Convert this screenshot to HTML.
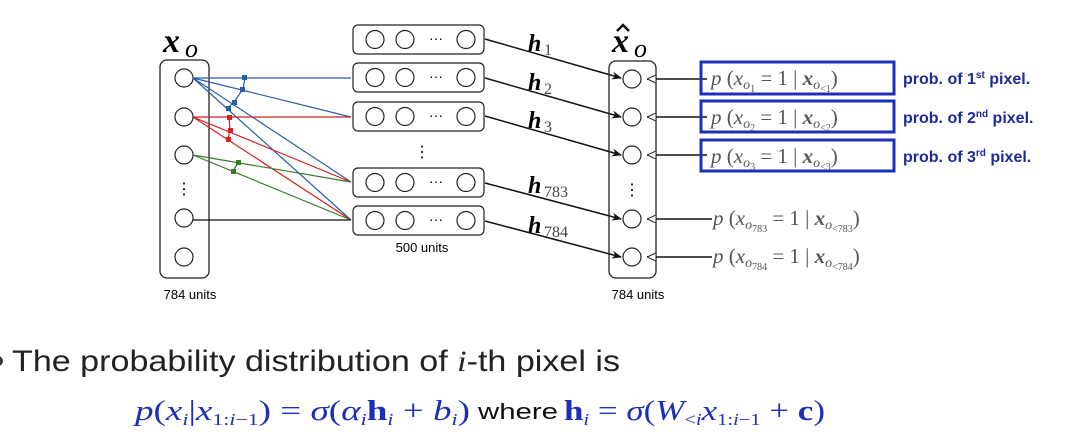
<!DOCTYPE html>
<html><head><meta charset="utf-8"><style>
html,body{margin:0;padding:0;background:#fff;}
svg{display:block}
.s{font-family:"Liberation Serif",serif}
.a{font-family:"Liberation Sans",sans-serif}
</style></head><body>
<svg width="1082" height="444" viewBox="0 0 1082 444" xmlns="http://www.w3.org/2000/svg">
<defs>
<marker id="ak" markerWidth="10" markerHeight="8" refX="9" refY="4" orient="auto" markerUnits="userSpaceOnUse"><path d="M0,0 L10,4 L0,8 L3,4z" fill="#111"/></marker>
<marker id="ao" markerWidth="9" markerHeight="8" refX="0" refY="4" orient="auto" markerUnits="userSpaceOnUse"><path d="M9,0 L0,4 L9,8z" fill="#fff" stroke="#222" stroke-width="1"/></marker>
</defs>
<!-- input column -->
<text x="163" y="52" class="s" font-size="34" font-weight="bold" font-style="italic">x</text>
<text x="185" y="57" class="s" font-size="26" font-style="italic">o</text>
<rect x="160" y="60" width="49" height="218" rx="7" fill="none" stroke="#222" stroke-width="1.3"/>
<g fill="#fff" stroke="#222" stroke-width="1.2">
<circle cx="184" cy="78" r="9"/><circle cx="184" cy="117" r="9"/><circle cx="184" cy="155" r="9"/>
<circle cx="184" cy="218" r="9"/><circle cx="184" cy="257" r="9"/></g>
<text x="184" y="194" class="a" font-size="16" text-anchor="middle">⋮</text>
<text x="190" y="299" class="a" font-size="13" text-anchor="middle">784 units</text>
<!-- colored connections -->
<g stroke-width="1.2" fill="none">
<g stroke="#2a5caa"><line x1="193" y1="78" x2="351" y2="78"/><line x1="193" y1="78" x2="351" y2="117"/><line x1="193" y1="78" x2="351" y2="182"/><line x1="193" y1="78" x2="351" y2="220"/></g>
<g stroke="#d42020"><line x1="193" y1="117" x2="351" y2="117"/><line x1="193" y1="117" x2="351" y2="182"/><line x1="193" y1="117" x2="351" y2="220"/></g>
<g stroke="#3a7a2a"><line x1="193" y1="155" x2="351" y2="182"/><line x1="193" y1="155" x2="351" y2="220"/></g>
<line x1="193" y1="220" x2="351" y2="220" stroke="#111"/>
<path d="M245,78 L243,89 L234,102 L228,108" stroke="#2a5caa"/>
<path d="M229,117 L230,130 L228,139" stroke="#d42020"/>
<path d="M238,163 L233,171" stroke="#3a7a2a"/>
</g>
<g fill="#2a5caa"><rect x="242" y="75" width="5" height="5"/><rect x="240" y="87" width="5" height="5"/><rect x="232" y="100" width="5" height="5"/><rect x="226" y="106" width="5" height="5"/></g>
<g fill="#d42020"><rect x="227" y="115" width="5" height="5"/><rect x="228" y="128" width="5" height="5"/><rect x="226" y="137" width="5" height="5"/></g>
<g fill="#3a7a2a"><rect x="236" y="160" width="5" height="5"/><rect x="231" y="169" width="5" height="5"/></g>
<!-- hidden boxes -->
<g fill="#fff" stroke="#222" stroke-width="1.2">
<rect x="353" y="25" width="131" height="29" rx="5"/><rect x="353" y="63" width="131" height="29" rx="5"/><rect x="353" y="102" width="131" height="29" rx="5"/><rect x="353" y="168" width="131" height="29" rx="5"/><rect x="353" y="206" width="131" height="29" rx="5"/>
</g>
<g fill="none" stroke="#222" stroke-width="1.2">
<circle cx="375" cy="39.5" r="9"/><circle cx="405" cy="39.5" r="9"/><circle cx="466" cy="39.5" r="9"/>
<circle cx="375" cy="77.5" r="9"/><circle cx="405" cy="77.5" r="9"/><circle cx="466" cy="77.5" r="9"/>
<circle cx="375" cy="116.5" r="9"/><circle cx="405" cy="116.5" r="9"/><circle cx="466" cy="116.5" r="9"/>
<circle cx="375" cy="182.5" r="9"/><circle cx="405" cy="182.5" r="9"/><circle cx="466" cy="182.5" r="9"/>
<circle cx="375" cy="220.5" r="9"/><circle cx="405" cy="220.5" r="9"/><circle cx="466" cy="220.5" r="9"/>
</g>
<g class="a" font-size="14" text-anchor="middle"><text x="436" y="43">···</text><text x="436" y="81">···</text><text x="436" y="120">···</text><text x="436" y="186">···</text><text x="436" y="224">···</text></g>
<text x="422" y="157" class="a" font-size="16" text-anchor="middle">⋮</text>
<text x="422" y="252" class="a" font-size="13" text-anchor="middle">500 units</text>
<!-- h arrows -->
<g stroke="#111" stroke-width="1.5" marker-end="url(#ak)">
<line x1="485" y1="39" x2="621" y2="78"/><line x1="485" y1="78" x2="621" y2="117"/><line x1="485" y1="116" x2="621" y2="155"/><line x1="485" y1="183" x2="621" y2="219"/><line x1="485" y1="221" x2="621" y2="257"/>
</g>
<g class="s" font-style="italic" font-weight="bold" font-size="24">
<text x="528" y="51">h</text><text x="528" y="90">h</text><text x="528" y="128">h</text><text x="528" y="193">h</text><text x="528" y="233">h</text></g>
<g class="s" font-size="16" fill="#444">
<text x="544" y="55">1</text><text x="544" y="94">2</text><text x="544" y="132">3</text><text x="544" y="197">783</text><text x="544" y="237">784</text></g>
<!-- output column -->
<text x="612" y="52" class="s" font-size="34" font-weight="bold" font-style="italic">x</text>
<path d="M617,31 L623,25 L629,31" fill="none" stroke="#111" stroke-width="2.5"/>
<text x="634" y="57" class="s" font-size="26" font-style="italic">o</text>
<rect x="609" y="61" width="47" height="217" rx="7" fill="none" stroke="#222" stroke-width="1.3"/>
<g fill="#fff" stroke="#222" stroke-width="1.2">
<circle cx="632" cy="79" r="9"/><circle cx="632" cy="117" r="9"/><circle cx="632" cy="155" r="9"/><circle cx="632" cy="219" r="9"/><circle cx="632" cy="257" r="9"/></g>
<text x="632" y="195" class="a" font-size="16" text-anchor="middle">⋮</text>
<text x="638" y="299" class="a" font-size="13" text-anchor="middle">784 units</text>
<g stroke="#111" stroke-width="1.5" marker-start="url(#ao)">
<line x1="647" y1="79" x2="707" y2="79"/><line x1="647" y1="117" x2="707" y2="117"/><line x1="647" y1="155" x2="707" y2="155"/><line x1="647" y1="219" x2="712" y2="219"/><line x1="647" y1="257" x2="712" y2="257"/></g>
<g fill="none" stroke="#1c2fb8" stroke-width="3">
<rect x="701" y="62" width="193" height="32"/><rect x="701" y="101" width="193" height="31"/><rect x="701" y="140" width="193" height="31"/></g>
<g class="s" font-size="21" fill="#555">
<text x="711" y="85"><tspan font-style="italic">p</tspan> (<tspan font-style="italic">x</tspan><tspan font-style="italic" font-size="14" dy="4">o</tspan><tspan font-size="10" dy="3">1</tspan><tspan dy="-7"> = 1 | </tspan><tspan font-style="italic" font-weight="bold">x</tspan><tspan font-style="italic" font-size="14" dy="4">o</tspan><tspan font-size="10" dy="3">&lt;1</tspan><tspan dy="-7">)</tspan></text>
<text x="711" y="124"><tspan font-style="italic">p</tspan> (<tspan font-style="italic">x</tspan><tspan font-style="italic" font-size="14" dy="4">o</tspan><tspan font-size="10" dy="3">2</tspan><tspan dy="-7"> = 1 | </tspan><tspan font-style="italic" font-weight="bold">x</tspan><tspan font-style="italic" font-size="14" dy="4">o</tspan><tspan font-size="10" dy="3">&lt;2</tspan><tspan dy="-7">)</tspan></text>
<text x="711" y="163"><tspan font-style="italic">p</tspan> (<tspan font-style="italic">x</tspan><tspan font-style="italic" font-size="14" dy="4">o</tspan><tspan font-size="10" dy="3">3</tspan><tspan dy="-7"> = 1 | </tspan><tspan font-style="italic" font-weight="bold">x</tspan><tspan font-style="italic" font-size="14" dy="4">o</tspan><tspan font-size="10" dy="3">&lt;3</tspan><tspan dy="-7">)</tspan></text>
<text x="713" y="225"><tspan font-style="italic">p</tspan> (<tspan font-style="italic">x</tspan><tspan font-style="italic" font-size="14" dy="4">o</tspan><tspan font-size="10" dy="3">783</tspan><tspan dy="-7"> = 1 | </tspan><tspan font-style="italic" font-weight="bold">x</tspan><tspan font-style="italic" font-size="14" dy="4">o</tspan><tspan font-size="10" dy="3">&lt;783</tspan><tspan dy="-7">)</tspan></text>
<text x="713" y="263"><tspan font-style="italic">p</tspan> (<tspan font-style="italic">x</tspan><tspan font-style="italic" font-size="14" dy="4">o</tspan><tspan font-size="10" dy="3">784</tspan><tspan dy="-7"> = 1 | </tspan><tspan font-style="italic" font-weight="bold">x</tspan><tspan font-style="italic" font-size="14" dy="4">o</tspan><tspan font-size="10" dy="3">&lt;784</tspan><tspan dy="-7">)</tspan></text>
</g>
<g class="a" font-size="16" font-weight="bold" fill="#1c2a9a">
<text x="903" y="84">prob. of 1<tspan font-size="10" dy="-6">st</tspan><tspan dy="6"> pixel.</tspan></text>
<text x="903" y="123">prob. of 2<tspan font-size="10" dy="-6">nd</tspan><tspan dy="6"> pixel.</tspan></text>
<text x="903" y="162">prob. of 3<tspan font-size="10" dy="-6">rd</tspan><tspan dy="6"> pixel.</tspan></text>
</g>
<!-- bottom text -->
<circle cx="-2" cy="361" r="5" fill="#333"/>
<text x="12" y="371" class="a" font-size="30" fill="#222" textLength="608" lengthAdjust="spacingAndGlyphs">The probability distribution of <tspan class="s" font-style="italic">i</tspan>-th pixel is</text>
<text x="135" y="420" class="s" font-size="29" fill="#1c2fb8" textLength="335" lengthAdjust="spacingAndGlyphs"><tspan font-style="italic">p</tspan>(<tspan font-style="italic">x</tspan><tspan font-style="italic" font-size="17" dy="5">i</tspan><tspan dy="-5">|</tspan><tspan font-style="italic">x</tspan><tspan font-size="17" dy="5">1:<tspan font-style="italic">i</tspan>−1</tspan><tspan dy="-5">) = </tspan><tspan font-style="italic">σ</tspan>(<tspan font-style="italic">α</tspan><tspan font-style="italic" font-size="17" dy="5">i</tspan><tspan dy="-5" font-weight="bold">h</tspan><tspan font-style="italic" font-size="17" dy="5">i</tspan><tspan dy="-5"> + </tspan><tspan font-style="italic">b</tspan><tspan font-style="italic" font-size="17" dy="5">i</tspan><tspan dy="-5">)</tspan></text>
<text x="478" y="419" class="a" font-size="22" fill="#111" textLength="80" lengthAdjust="spacingAndGlyphs">where</text>
<text x="564" y="420" class="s" font-size="29" fill="#1c2fb8" textLength="261" lengthAdjust="spacingAndGlyphs"><tspan font-weight="bold">h</tspan><tspan font-style="italic" font-size="17" dy="5">i</tspan><tspan dy="-5"> = </tspan><tspan font-style="italic">σ</tspan>(<tspan font-style="italic">W</tspan><tspan font-size="17" dy="5">&lt;<tspan font-style="italic">i</tspan></tspan><tspan font-style="italic" dy="-5">x</tspan><tspan font-size="17" dy="5">1:<tspan font-style="italic">i</tspan>−1</tspan><tspan dy="-5"> + </tspan><tspan font-weight="bold">c</tspan>)</text>
</svg>
</body></html>
